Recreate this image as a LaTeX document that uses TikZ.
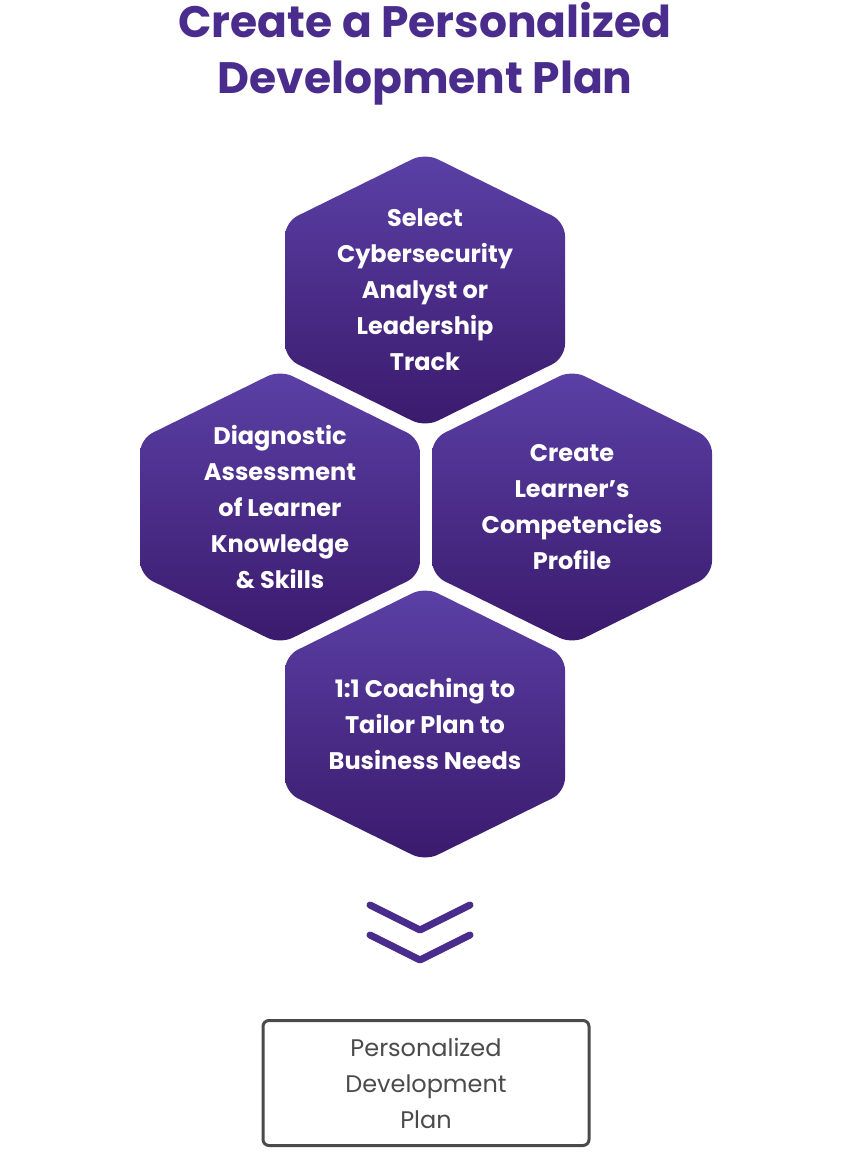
\documentclass[tikz,border=0pt]{standalone}
\usepackage{fontspec}
\setmainfont{Poppins}
\definecolor{titlepurple}{HTML}{4A2C8C}
\definecolor{hextop}{HTML}{5B40A6}
\definecolor{hexbot}{HTML}{3A1A6C}
\definecolor{boxgray}{HTML}{4A4A4A}
\tikzset{
  hexfill/.style={top color=hextop, bottom color=hexbot, draw=none, rounded corners=14pt},
  hextext/.style={text=white, align=center, font=\fontsize{24}{36}\selectfont\bfseries},
  chevron/.style={draw=titlepurple, line width=7pt, line cap=round, line join=round}
}
% \hexagon{name}{cx}{cy}{text}
\newcommand{\hexagon}[4]{%
  \path[hexfill] (#2,#3-137) -- (#2+140,#3-68) -- (#2+140,#3+68) -- (#2,#3+137)
    -- (#2-140,#3+68) -- (#2-140,#3-68) -- cycle;
  \node[hextext] (#1) at (#2,#3) {#4};
}
\begin{document}
\begin{tikzpicture}[x=1pt,y=-1pt]
  \useasboundingbox (0,0) rectangle (858,1159);
  %%% title
  \node[text=titlepurple, align=center, font=\fontsize{44}{56}\selectfont\bfseries]
    (title) at (425,54) {Create a Personalized\\Development Plan};
  %%% hexagons
  \hexagon{track}{425}{290}{Select\\Cybersecurity\\Analyst or\\Leadership\\Track}
  \hexagon{assess}{280}{507}{Diagnostic\\Assessment\\of Learner\\Knowledge\\\& Skills}
  \hexagon{profile}{572}{507}{Create\\Learner’s\\Competencies\\Profile}
  \hexagon{coach}{425}{724}{1:1 Coaching to\\Tailor Plan to\\Business Needs}
  %%% chevrons
  \coordinate (c1) at (420,930);
  \coordinate (c2) at (420,960);
  \draw[chevron] (c1) +(-50,-25) -- (c1) -- +(50,-25);
  \draw[chevron] (c2) +(-50,-25) -- (c2) -- +(50,-25);
  %%% result
  \node[draw=boxgray, line width=3pt, rounded corners=6pt, minimum width=326pt,
    minimum height=125pt, text=boxgray, align=center,
    font=\fontsize{24}{36}\selectfont] (plan) at (426,1083)
    {Personalized\\Development\\Plan};
\end{tikzpicture}
\end{document}
